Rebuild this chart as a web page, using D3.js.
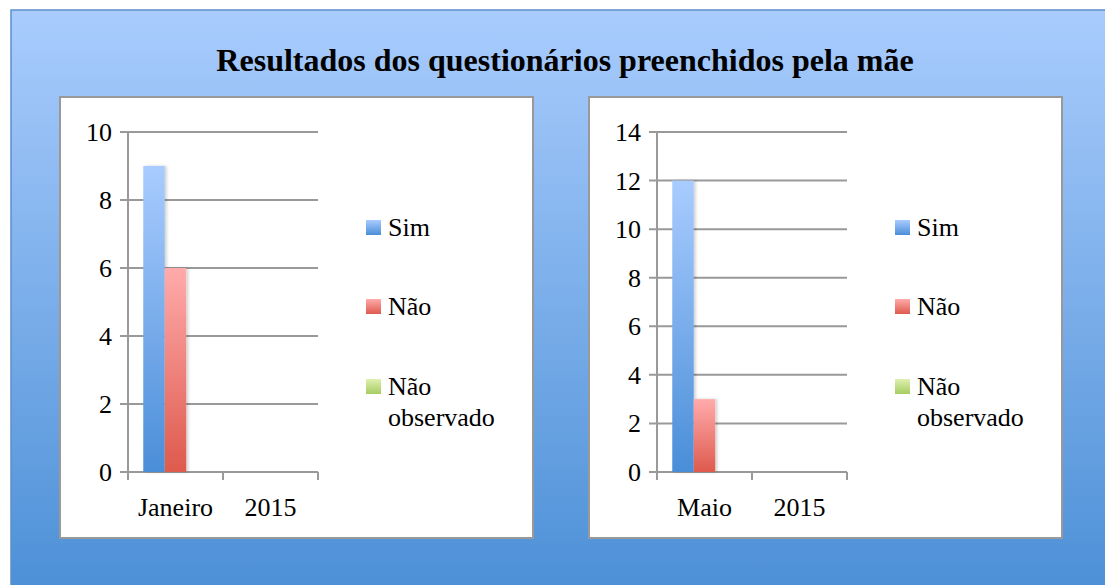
<!DOCTYPE html>
<html><head><meta charset="utf-8">
<script src="https://cdn.jsdelivr.net/npm/d3@7/dist/d3.min.js"></script>
<style>body{margin:0;background:#fff;}svg{display:block;} svg text{font-family:"Liberation Serif","Times New Roman",serif;}</style>
</head><body>
<svg id="c" width="1105" height="585"></svg>
<script>
const title = "Resultados dos questionários preenchidos pela mãe";
const seriesNames = ["Sim", "Não", "Não observado"];
const categoriesA = ["Janeiro", "2015"];
const simA = [9, null];
const naoA = [6, null];
const naoObsA = [null, null];
const ticksA = [0, 2, 4, 6, 8, 10];
const categoriesB = ["Maio", "2015"];
const simB = [12, null];
const naoB = [3, null];
const naoObsB = [null, null];
const ticksB = [0, 2, 4, 6, 8, 10, 12, 14];

const svg = d3.select("#c");
const defs = svg.append("defs");
function grad(id, c1, c2) {
  const g = defs.append("linearGradient").attr("id", id).attr("x1", 0).attr("y1", 0).attr("x2", 0).attr("y2", 1);
  g.append("stop").attr("offset", "0%").attr("stop-color", c1);
  g.append("stop").attr("offset", "100%").attr("stop-color", c2);
}
grad("bg", "#a9ccfd", "#4b8fd6");
grad("gSim", "#a9ccff", "#4a8ed8");
grad("gNao", "#ffabab", "#de5a4d");
grad("gObs", "#dff0b0", "#a6cc62");
const f = defs.append("filter").attr("id", "sh").attr("x", "-30%").attr("y", "-10%").attr("width", "170%").attr("height", "130%");
f.append("feDropShadow").attr("dx", 2).attr("dy", 0).attr("stdDeviation", 1.5).attr("flood-color", "#000").attr("flood-opacity", 0.18);

const fills = ["url(#gSim)", "url(#gNao)", "url(#gObs)"];

svg.append("rect").attr("x", 11).attr("y", 10).attr("width", 1110).attr("height", 590)
  .attr("fill", "url(#bg)").attr("stroke", "#5d8fcc").attr("stroke-width", 1.5);

svg.append("text").attr("x", 565).attr("y", 71).attr("text-anchor", "middle")
  .attr("font-weight", "bold").attr("font-size", 32)
  .attr("fill", "#000").text(title);

function chart(ox, cats, vals, ticks, ymax) {
  const g = svg.append("g");
  g.append("rect").attr("x", ox).attr("y", 97).attr("width", 473).attr("height", 441)
    .attr("fill", "#fff").attr("stroke", "#999").attr("stroke-width", 2);
  const x0 = ox + 68, x1 = ox + 258;
  const y = d3.scaleLinear().domain([0, ymax]).range([472, 132]);
  const x = d3.scaleBand().domain(cats).range([x0, x1]).paddingInner(0).paddingOuter(0);
  const xs = d3.scaleBand().domain(seriesNames).range([0, x.bandwidth()]).paddingOuter(0.71).paddingInner(0);
  g.selectAll("line.grid").data(ticks).join("line")
    .attr("x1", x0 - 8).attr("x2", x1).attr("y1", d => y(d)).attr("y2", d => y(d))
    .attr("stroke", "#999").attr("stroke-width", 2);
  g.append("line").attr("x1", x0).attr("x2", x0).attr("y1", y(ymax)).attr("y2", y(0) + 8)
    .attr("stroke", "#999").attr("stroke-width", 2);
  g.selectAll("line.xt").data(cats).join("line")
    .attr("x1", d => x(d) + x.bandwidth()).attr("x2", d => x(d) + x.bandwidth())
    .attr("y1", y(0)).attr("y2", y(0) + 8).attr("stroke", "#999").attr("stroke-width", 2);
  g.selectAll("text.yl").data(ticks).join("text")
    .attr("x", x0 - 16).attr("y", d => y(d) + 9).attr("text-anchor", "end")
    .attr("font-size", 26).attr("fill", "#000").text(d => d);
  g.selectAll("text.xl").data(cats).join("text")
    .attr("x", d => x(d) + x.bandwidth() / 2).attr("y", 516).attr("text-anchor", "middle")
    .attr("font-size", 26).attr("fill", "#000").text(d => d);
  const bars = [];
  cats.forEach((c, i) => seriesNames.forEach((s, j) => {
    const v = vals[j][i];
    if (v != null && v > 0) bars.push({ c, s, v, j });
  }));
  g.selectAll("rect.bar").data(bars).join("rect")
    .attr("x", d => x(d.c) + xs(d.s)).attr("width", xs.bandwidth())
    .attr("y", d => y(d.v)).attr("height", d => y(0) - y(d.v))
    .attr("fill", d => fills[d.j]).attr("filter", "url(#sh)");
  const lx = ox + 306;
  const ly = [227, 306, 386];
  seriesNames.forEach((s, j) => {
    g.append("rect").attr("x", lx).attr("y", ly[j] - 7).attr("width", 15).attr("height", 15).attr("fill", fills[j]);
    const t = g.append("text").attr("x", lx + 22).attr("y", ly[j] + 9)
      .attr("font-size", 26).attr("fill", "#000");
    if (s === "Não observado") {
      t.append("tspan").attr("x", lx + 22).text("Não");
      t.append("tspan").attr("x", lx + 22).attr("dy", 31).text("observado");
    } else t.text(s);
  });
}
chart(60, categoriesA, [simA, naoA, naoObsA], ticksA, 10);
chart(589, categoriesB, [simB, naoB, naoObsB], ticksB, 14);
</script>
</body></html>
